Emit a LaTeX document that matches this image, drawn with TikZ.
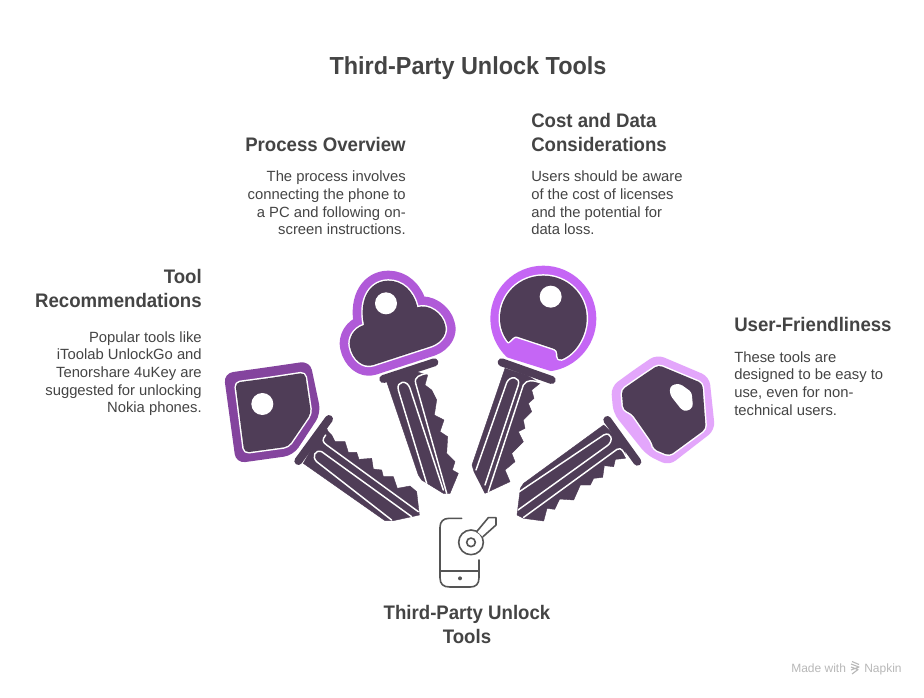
\documentclass[tikz,border=0pt]{standalone}
\usepackage{fontspec}
\setmainfont{Liberation Sans}
\newfontfamily\headfont[FakeStretch=0.95]{Liberation Sans Bold}
\definecolor{dk}{HTML}{4F3D57}
\definecolor{txt}{HTML}{444444}
\definecolor{ic}{HTML}{555555}
\definecolor{kA}{HTML}{84449E}
\definecolor{kB}{HTML}{B05AD8}
\definecolor{kC}{HTML}{C566F5}
\definecolor{kD}{HTML}{E3A6FB}
\tikzset{
 blade/.style={fill=dk,draw=dk,line width=.3pt,line join=round},
 capbar/.style={draw=dk,line width=6pt,line cap=round},
 groove/.style={draw=white,line width=1.1pt,line cap=round,line join=round},
 hole/.style={fill=white},
 inlay/.style={fill=dk,preaction={draw=white,line width=2.2pt,line join=round}},
 title/.style={font=\headfont\fontsize{18.5pt}{23pt}\selectfont,text=txt,inner sep=0pt},
 head/.style={font=\headfont\fontsize{14.7pt}{18pt}\selectfont,text=txt,inner sep=0pt},
 bodytext/.style={font=\fontsize{11.1pt}{13.25pt}\selectfont,text=txt,inner sep=0pt},
 icon/.style={draw=ic,line width=1.2pt,line cap=round,line join=round},
 credit/.style={font=\fontsize{9pt}{11pt}\selectfont,text=black!28,inner sep=0pt,anchor=base west},
}
\begin{document}
\begin{tikzpicture}[x=.75pt,y=-.75pt]
\useasboundingbox (0,0) rectangle (924,697);
\fill[white] (0,0) rectangle (924,697);

% Texts
\node[title,anchor=base] (t0) at (468,74) {Third-Party Unlock Tools};
\node[head,anchor=north east,align=right] (h1) at (202,269) {Tool\\Recommendations};
\node[bodytext,anchor=north east,align=right] (b1) at (202,331) {Popular tools like\\iToolab UnlockGo and\\Tenorshare 4uKey are\\suggested for unlocking\\Nokia phones.};
\node[head,anchor=north east,align=right] (h2) at (406,137) {Process Overview};
\node[bodytext,anchor=north east,align=right] (b2) at (406,171) {The process involves\\connecting the phone to\\a PC and following on-\\screen instructions.};
\node[head,anchor=north west,align=left] (h3) at (531,113) {Cost and Data\\Considerations};
\node[bodytext,anchor=north west,align=left] (b3) at (531,171) {Users should be aware\\of the cost of licenses\\and the potential for\\data loss.};
\node[head,anchor=north west,align=left] (h4) at (734,317) {User-Friendliness};
\node[bodytext,anchor=north west,align=left] (b4) at (734,351) {These tools are\\designed to be easy to\\use, even for non-\\technical users.};
\node[head,anchor=north,align=center] (h5) at (467,605) {Third-Party Unlock\\Tools};
\node[credit] (m1) at (791,672) {Made with};
\node[credit] (m2) at (864,672) {Napkin};
\draw[black!28,line width=.8pt,line join=round] (851,664)--(859,667)--(851,670) (851,667)--(858,669.5)--(852,674) (852,661.5)--(859,664.5);

% Key 1
\begin{scope}[shift={(210,350)},x=.25pt,y=-.25pt]
\draw[capbar] (357,207)--(265,333);
\path[blade] (345,225)--(355,245)--(365,255)--(375,275)--(405,275)--(415,307)--(440,307)--(447,328)--(485,325)--(490,357)--(515,360)--(520,380)--(550,380)--(562,415)--(600,408)--(620,425)--(628,495)--(550,512)--(525,512)--(280,340)--cycle;
\draw[groove] (545,510)--(320,335) .. controls (305,320) and (315,298) .. (335,305)--(605,500);
\draw[groove] (347,255) .. controls (335,270) and (338,276) .. (350,285)--(625,485);
\fill[kA,rounded corners=7pt] (170,52)--(300,33)--(333,190)--(250,316)--(78,340)--(41,70)--cycle;
\path[inlay,rounded corners=3.5pt] (180,84)--(285,68)--(303,190)--(235,290)--(103,308)--(76,98)--cycle;
\fill[hole] (157,162) circle (33);
\end{scope}

% Key 2
\begin{scope}[shift={(330,260)},x=.25pt,y=-.25pt]
\draw[capbar] (160,357)--(313,307);
\path[blade] (170,365)--(265,645)--(275,660)--(340,700)--(360,700)--(385,640)--(367,630)--(375,605)--(350,580)--(353,530)--(330,515)--(342,480)--(313,465)--(320,420)--(305,390)--(285,375)--(293,345)--(240,330)--cycle;
\draw[groove] (290,670)--(205,390) .. controls (198,362) and (232,358) .. (240,385)--(340,690);
\draw[groove] (350,700)--(257,370) .. controls (252,350) and (270,345) .. (290,340);
\path[draw=kB,line width=15pt,line join=round] (130,315)--(305,258) .. controls (340,245) and (352,215) .. (345,195) .. controls (338,160) and (295,130) .. (262,142) .. controls (250,90) and (215,62) .. (175,62) .. controls (125,62) and (85,110) .. (102,195) .. controls (70,205) and (55,235) .. (60,260) .. controls (68,300) and (100,325) .. (130,315)--cycle;
\path[inlay] (130,315)--(305,258) .. controls (340,245) and (352,215) .. (345,195) .. controls (338,160) and (295,130) .. (262,142) .. controls (250,90) and (215,62) .. (175,62) .. controls (125,62) and (85,110) .. (102,195) .. controls (70,205) and (55,235) .. (60,260) .. controls (68,300) and (100,325) .. (130,315)--cycle;
\fill[hole] (168,130) circle (33);
\end{scope}

% Key 3
\begin{scope}[shift={(330,260)},x=.25pt,y=-.25pt]
\draw[capbar] (515,307)--(665,360);
\path[blade] (525,325)--(426,615)--(432,635)--(465,700)--(540,665)--(525,630)--(555,605)--(545,580)--(580,545)--(565,515)--(585,505)--(580,480)--(605,455)--(595,430)--(612,415)--(605,390)--(630,370)--(590,345)--cycle;
\draw[groove] (438,630)--(530,368) .. controls (540,345) and (572,350) .. (565,375)--(465,675);
\draw[groove] (475,695)--(580,375) .. controls (590,358) and (610,360) .. (630,368);
\end{scope}
\begin{scope}[shift={(480,260)},x=.25pt,y=-.25pt]
\begin{scope}
\clip (0,0)--(400,0)--(400,380)--(290,358)--(215,334)--(78,291)--(0,267)--cycle;
\fill[kC] (190,176) circle (159);
\end{scope}
\path[inlay] (85,246) .. controls (70,228) and (60,203) .. (60,175) .. controls (60,103) and (118,47) .. (190,47) .. controls (262,47) and (320,103) .. (320,175) .. controls (320,225) and (290,280) .. (245,298) .. controls (237,300) and (232,296) .. (232,288) .. controls (233,272) and (228,268) .. (218,265)--(112,230) .. controls (100,226) and (95,240) .. (85,246)--cycle;
\fill[hole] (212,110) circle (33);
\end{scope}

% Key 4
\begin{scope}[shift={(510,345)},x=.25pt,y=-.25pt]
\draw[capbar] (292,225)--(382,350);
\path[blade] (281,240)--(41,415)--(31,430)--(21,510)--(41,520)--(101,528)--(111,490)--(134,493)--(149,462)--(191,465)--(211,420)--(241,420)--(251,400)--(278,397)--(283,362)--(311,365)--(316,343)--(346,340)--(345,300)--cycle;
\draw[groove] (28,440)--(281,270) .. controls (304,258) and (312,288) .. (292,302)--(24,495);
\draw[groove] (41,517)--(321,313) .. controls (335,306) and (340,320) .. (348,335);
\fill[kD,rounded corners=6pt] (370,76)--(440,28)--(598,95)--(615,255)--(477,362)--(410,330)--(310,205)--(303,125)--cycle;
\path[inlay,rounded corners=3pt] (390,97)--(445,60)--(577,115)--(587,252)--(478,332)--(430,312)--(428,295)--(365,205)--(340,195)--(335,135)--cycle;
\path[fill=white,draw=white,line width=1.5pt,line join=round,rounded corners=2pt] (482,128)--(495,120)--(510,120)--(542,143)--(546,185)--(530,196)--(517,192)--(484,150)--cycle;
\end{scope}

% Phone icon
\begin{scope}[shift={(425,505)},x=.25pt,y=-.25pt]
\draw[icon] (110,40)--(72,40) .. controls (55,40) and (45,50) .. (45,67)--(45,218) .. controls (45,238) and (55,246) .. (75,246)--(135,246) .. controls (152,246) and (162,238) .. (162,218)--(162,165);
\draw[icon] (45,198)--(162,198);
\fill[ic] (105,220) circle (6);
\draw[icon] (138,112) circle (37);
\draw[icon] (138,112) circle (13);
\fill[white] (155,78)--(190,38)--(213,38)--(213,60)--(176,98)--cycle;
\draw[icon] (155,80)--(190,38)--(213,38)--(213,60)--(174,95);
\end{scope}
\end{tikzpicture}
\end{document}
